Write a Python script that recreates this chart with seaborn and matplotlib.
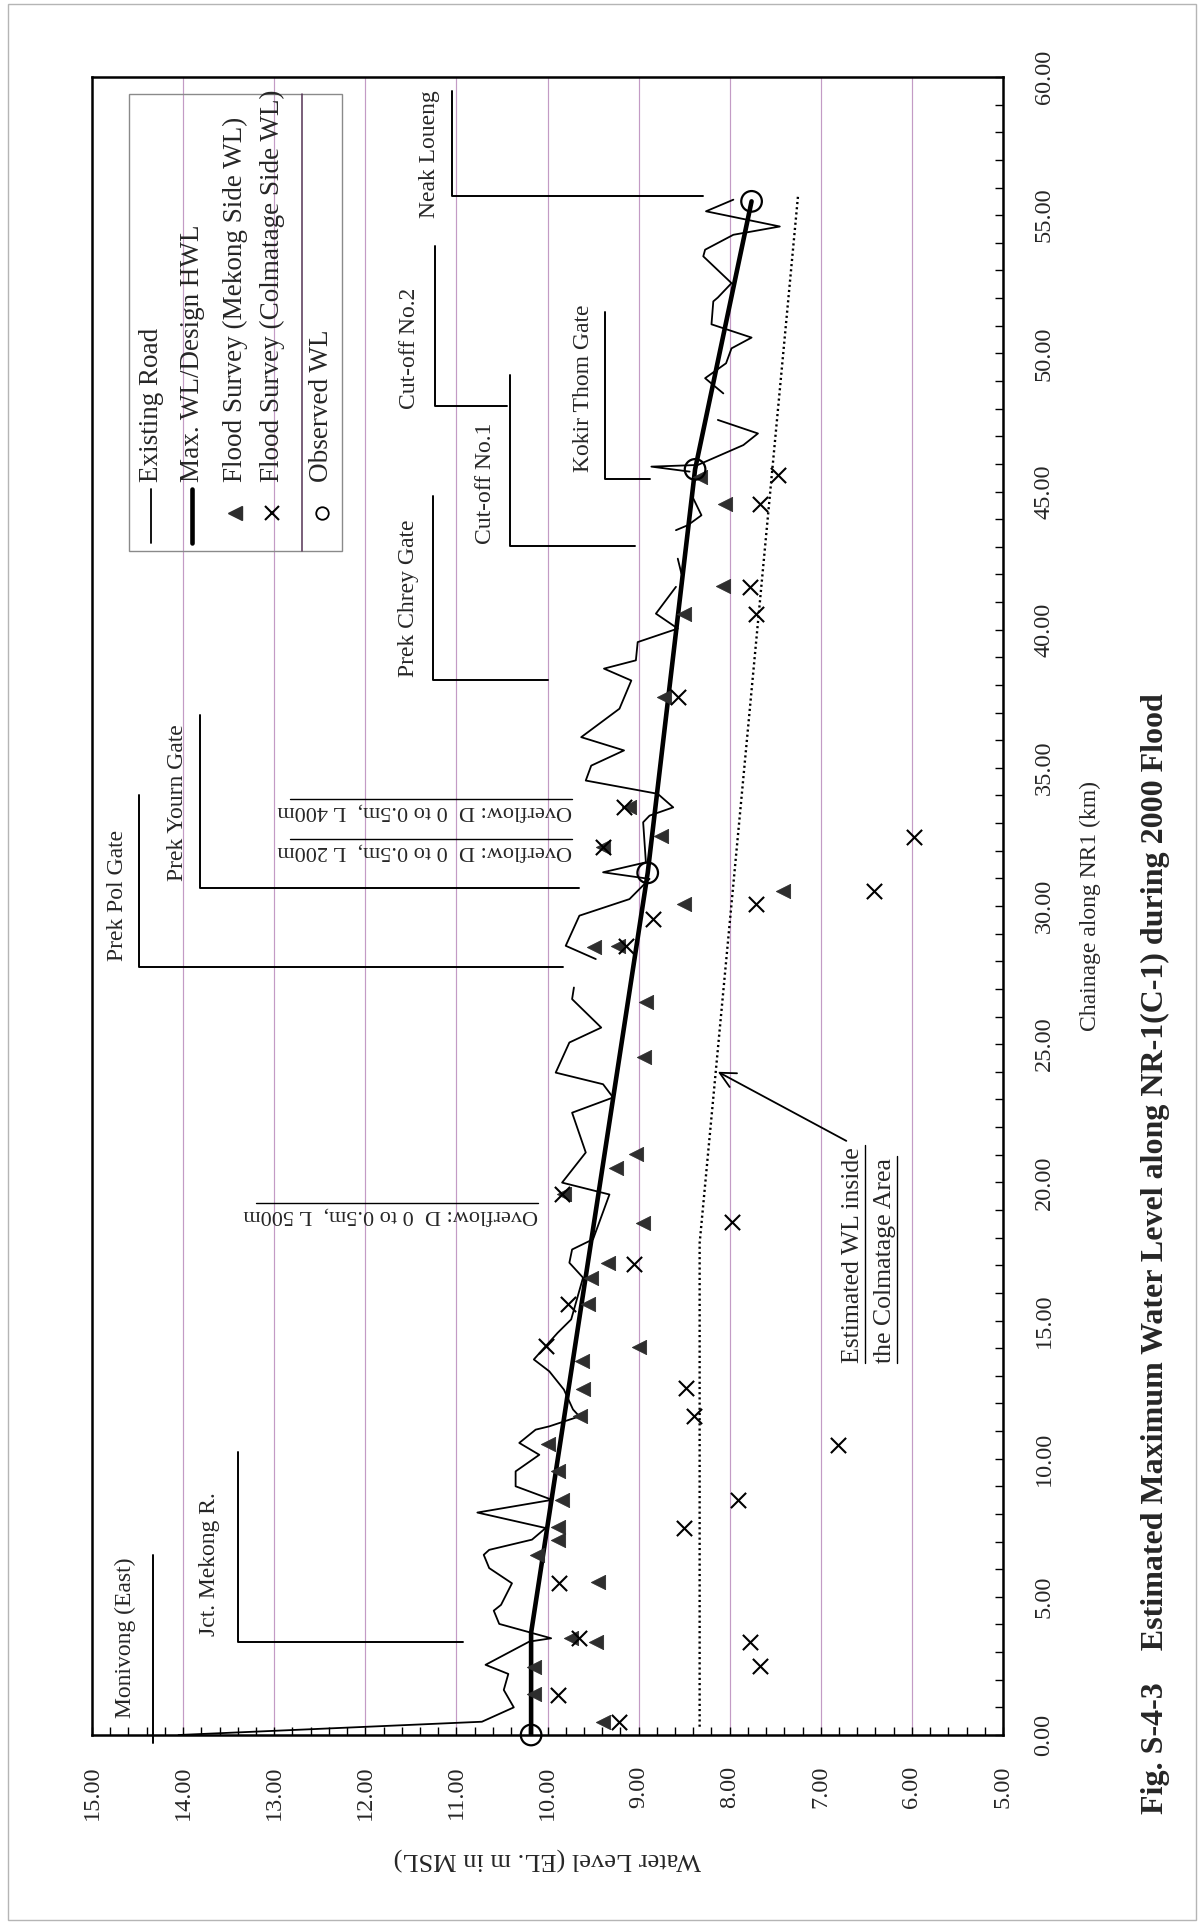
import numpy as np
import pandas as pd
import matplotlib
matplotlib.use("Agg")
import matplotlib.pyplot as plt
from matplotlib.patches import Rectangle
import seaborn as sns

# ---------------- data (chainage in km, levels in m MSL) ----------------
# Existing road crest; NaN marks a break in the surveyed profile
road_ch = [0.00, 0.48, 1.00, 1.63, 2.21, 2.54, 3.38, 3.50, 4.02, 4.50, 4.71, 5.49,
           6.04, 6.52, 6.70, 7.07, 7.49, 8.05, 8.51, 9.00, 9.54, 10.14, 10.57, 11.05,
           11.17, 11.53, 11.78, 12.50, 13.16, 13.59, 14.55, 15.04, 16.55, 17.09, 17.57,
           17.94, 19.56, 19.99, 21.08, 22.52, 23.07, 23.55, 23.97, 25.06, 25.60, 26.63,
           27.05, np.nan,
           28.08, 28.56, 29.65, 30.25, 30.98, 31.22, 31.58, 33.03, 33.27, 33.57, 34.06,
           34.54, 35.08, 35.63, 36.11, 37.14, 38.16, 38.59, 38.89, 39.55, 40.04, 40.58,
           41.55, np.nan,
           42.03, 42.57, np.nan,
           43.60, 43.78, 44.14, 44.75, np.nan,
           45.72, 45.90, 45.96, 46.68, 47.10, 47.59, np.nan,
           48.55, 49.10, 49.64, 50.18, 50.57, 51.05, 51.88, 52.02, 52.54, 53.51, 53.75,
           54.29, 54.59, 55.14, 55.56]
road_wl = [14.05, 10.72, 10.37, 10.48, 10.43, 10.68, 10.20, 9.96, 10.53, 10.59, 10.51, 10.39,
           10.64, 10.70, 10.64, 10.17, 10.02, 10.77, 9.95, 10.35, 10.35, 10.09, 10.31, 10.13,
           9.98, 9.65, 9.72, 9.82, 9.98, 10.15, 9.89, 9.74, 9.61, 9.76, 9.73,
           9.50, 9.32, 9.84, 9.58, 9.73, 9.28, 9.39, 9.91, 9.76, 9.41, 9.73,
           9.71, np.nan,
           9.47, 9.80, 9.65, 9.10, 8.88, 9.39, 8.92, 8.95, 8.88, 8.62, 8.79,
           9.58, 9.52, 9.16, 9.63, 9.21, 9.08, 9.38, 9.03, 9.01, 8.57, 8.81,
           8.59, np.nan,
           8.53, 8.57, np.nan,
           8.59, 8.46, 8.31, 8.40, np.nan,
           8.44, 8.86, 8.35, 7.85, 7.69, 8.13, np.nan,
           8.07, 8.27, 8.04, 7.98, 7.76, 8.20, 8.18, 8.13, 7.98, 8.29, 8.27,
           7.96, 7.45, 8.26, 7.96]

# Max. WL / Design HWL
hwl_ch = [0.0, 3.7, 31.2, 45.8, 55.5]
hwl_wl = [10.18, 10.18, 8.90, 8.38, 7.76]

# Observed water levels
obs_ch = [0.0, 31.2, 45.8, 55.5]
obs_wl = [10.18, 8.90, 8.38, 7.76]

# Flood survey, Mekong side
mek_ch = [0.48, 1.49, 2.47, 3.35, 3.50, 5.52, 6.52, 7.07, 7.52, 8.51, 9.54, 10.54,
          11.53, 12.52, 13.53, 14.05, 15.58, 16.55, 17.09, 18.54, 19.57, 20.53, 21.01,
          24.52, 26.51, 28.50, 28.56, 30.07, 30.55, 32.12, 32.55, 33.57, 37.56, 40.58,
          41.58, 44.56, 45.53]
mek_wl = [9.39, 10.15, 10.15, 9.47, 9.74, 9.45, 10.11, 9.89, 9.88, 9.84, 9.88, 10.00,
          9.64, 9.61, 9.62, 9.00, 9.56, 9.52, 9.34, 8.95, 9.82, 9.25, 9.03,
          8.94, 8.92, 9.49, 9.23, 8.50, 7.41, 9.39, 8.75, 9.10, 8.72, 8.50,
          8.07, 8.05, 8.33]

# Flood survey, Colmatage side
col_ch = [0.48, 1.45, 2.48, 3.38, 3.50, 5.49, 7.49, 8.51, 10.51, 11.53, 12.56, 14.07,
          15.58, 17.03, 18.56, 19.56, 28.56, 29.53, 30.07, 30.55, 32.12, 32.50, 33.57,
          37.56, 40.58, 41.55, 44.53, 45.60]
col_wl = [9.21, 9.88, 7.67, 7.78, 9.65, 9.87, 8.50, 7.91, 6.81, 8.39, 8.48, 10.02,
          9.78, 9.05, 7.98, 9.84, 9.14, 8.84, 7.71, 6.42, 9.39, 5.98, 9.16,
          8.57, 7.71, 7.78, 7.67, 7.47]

# Estimated WL inside the Colmatage area
est_ch = [0.3, 17.8, 55.7]
est_wl = [8.33, 8.33, 7.25]

# Locations along the road
site_names = ["Monivong (East)", "Jct. Mekong R.", "Prek Pol Gate", "Prek Yourn Gate",
              "Prek Chrey Gate", "Cut-off No.1", "Cut-off No.2", "Kokir Thom Gate",
              "Neak Loueng"]
site_ch = [0.0, 3.37, 27.8, 30.65, 38.19, 43.04, 48.1, 45.47, 55.7]
site_top = [6.5, 10.25, 34.0, 36.9, 44.85, 49.2, 53.9, 51.5, 59.5]
site_lead_wl = [14.33, 13.40, 14.48, 13.81, 11.26, 10.41, 11.24, 9.37, 11.05]
site_end_wl = [14.33, 10.93, 9.83, 9.65, 10.00, 9.04, 10.45, 8.87, 8.29]
site_text_wl = [14.63, 13.71, 14.72, 14.06, 11.53, 10.68, 11.52, 9.61, 11.29]
site_text_ch = [0.6, 3.6, 28.0, 30.9, 38.3, 43.1, 48.0, 45.7, 54.9]

# Overflow sections
ovf_text = ["Overflow: D  0 to 0.5m,  L 500m", "Overflow: D  0 to 0.5m,  L 200m",
            "Overflow: D  0 to 0.5m,  L 400m"]
ovf_ch = [18.86, 32.03, 33.48]
ovf_wl = [10.10, 9.73, 9.73]

wl_ticks = [15, 14, 13, 12, 11, 10, 9, 8, 7, 6, 5]
wl_labels = ["15.00", "14.00", "13.00", "12.00", "11.00", "10.00", "9.00", "8.00",
             "7.00", "6.00", "5.00"]
ch_ticks = [0, 5, 10, 15, 20, 25, 30, 35, 40, 45, 50, 55, 60]
ch_labels = ["0.00", "5.00", "10.00", "15.00", "20.00", "25.00", "30.00", "35.00",
             "40.00", "45.00", "50.00", "55.00", "60.00"]
grid_levels = [14, 13, 12, 11, 10, 9, 8, 7, 6]

# ---------------- figure ----------------
sns.set_theme(style="white")
plt.rcParams["font.family"] = ["Liberation Serif", "DejaVu Serif"]
plt.rcParams["axes.unicode_minus"] = False

W, H = 1199, 1922
fig = plt.figure(figsize=(W / 100, H / 100), dpi=100)
fig.patch.set_facecolor("white")
ax = fig.add_axes([92 / W, 1 - 1735 / H, 911 / W, 1658 / H])
ax.set_facecolor("white")

# page frame
fig.add_artist(Rectangle((8 / W, 2 / H), 1188 / W, 1916 / H, transform=fig.transFigure,
                         fill=False, ec="#b5b5b5", lw=1.0))

ax.set_xlim(15, 5)
ax.set_ylim(0, 60)

for lv in grid_levels:
    ax.axvline(lv, color="#c39bc5", lw=0.85, zorder=0)

# road profile
road = pd.DataFrame({"ch": road_ch, "wl": road_wl})
road["seg"] = np.cumsum(road["ch"].isna())
road = road.dropna()
sns.lineplot(data=road, x="wl", y="ch", units="seg", estimator=None, sort=False,
             orient="y", color="black", lw=1.3, legend=False, ax=ax, zorder=3)

# design HWL
sns.lineplot(x=hwl_wl, y=hwl_ch, estimator=None, sort=False, orient="y",
             color="black", lw=3.3, ax=ax, zorder=4)

# estimated WL inside the Colmatage area
sns.lineplot(x=est_wl, y=est_ch, estimator=None, sort=False, orient="y",
             color="black", lw=1.7, linestyle=(0, (0.9, 1.3)), ax=ax, zorder=3)

sns.scatterplot(x=mek_wl, y=mek_ch, marker="<", s=105, color="#2e2e2e",
                edgecolor="#2e2e2e", linewidth=0.6, ax=ax, zorder=5)
sns.scatterplot(x=col_wl, y=col_ch, marker="x", s=120, color="black",
                linewidth=1.5, ax=ax, zorder=5)
sns.scatterplot(x=obs_wl, y=obs_ch, marker="o", s=220, facecolor="none",
                edgecolor="black", linewidth=1.6, ax=ax, zorder=6, clip_on=False)
ax.collections[-1].set_facecolor("none")

# location leaders and names
for name, c, top, lw_, ew, tw, tc in zip(site_names, site_ch, site_top, site_lead_wl,
                                          site_end_wl, site_text_wl, site_text_ch):
    if name.startswith("Monivong"):
        ax.plot([lw_, lw_], [-0.3, top], color="black", lw=1.4, clip_on=False, zorder=3)
    else:
        ax.plot([lw_, lw_, ew], [top, c, c], color="black", lw=1.4, zorder=3)
    ax.text(tw, tc, name, rotation=90, rotation_mode="anchor", ha="left", va="center",
            fontsize=17, zorder=6)

# overflow notes
for t, c, w in zip(ovf_text, ovf_ch, ovf_wl):
    ax.text(w, c, t, rotation=180, rotation_mode="anchor", ha="left",
            va="center", fontsize=16, zorder=6)
    ax.plot([w, w + 3.1], [c + 0.38, c + 0.38], color="black", lw=1.0, zorder=6)

# note on the Colmatage estimate
ax.text(6.65, 13.46, "Estimated WL inside", rotation=90, rotation_mode="anchor",
        ha="left", va="center", fontsize=18.5, zorder=6)
ax.text(6.30, 13.46, "the Colmatage Area", rotation=90, rotation_mode="anchor",
        ha="left", va="center", fontsize=18.5, zorder=6)
ax.plot([6.52, 6.52], [13.46, 21.35], color="black", lw=1.0)
ax.plot([6.16, 6.16], [13.46, 20.95], color="black", lw=1.0)
ax.annotate("", xy=(8.13, 24.0), xytext=(6.72, 21.5),
            arrowprops=dict(arrowstyle="->", lw=1.3, color="black", mutation_scale=28,
                            shrinkA=0, shrinkB=0))

# legend, drawn along the chainage axis
lg_left, lg_right, lg_bot, lg_top = 14.59, 12.26, 42.85, 59.39
ax.add_patch(Rectangle((lg_right, lg_bot), lg_left - lg_right, lg_top - lg_bot,
                       fill=False, ec="#8a8a8a", lw=1.0, zorder=6))
ax.plot([12.70, 12.70], [lg_bot, lg_top], color="#553355", lw=1.1, zorder=6)
leg_wl = [14.35, 13.90, 13.43, 13.02, 12.48]
leg_txt = ["Existing Road", "Max. WL/Design HWL", "Flood Survey (Mekong Side WL)",
           "Flood Survey (Colmatage Side WL)", "Observed WL"]
ax.plot([leg_wl[0]] * 2, [43.14, 45.10], color="black", lw=1.3, zorder=7)
ax.plot([leg_wl[1]] * 2, [43.14, 45.10], color="black", lw=3.3, zorder=7)
ax.plot(leg_wl[2], 44.24, marker="<", ms=10, color="#2e2e2e", zorder=7)
ax.plot(leg_wl[3], 44.24, marker="x", ms=10, mew=1.5, color="black", zorder=7)
ax.plot(leg_wl[4], 44.24, marker="o", ms=9, mew=1.3, mfc="none", color="black", zorder=7)
for w, t in zip(leg_wl, leg_txt):
    ax.text(w, 45.35, t, rotation=90, rotation_mode="anchor", ha="left", va="center",
            fontsize=19.5, zorder=7)

# axes
ax.set_xticks(wl_ticks)
ax.set_xticklabels(wl_labels, rotation=90, ha="center", va="top")
ax.set_xticks(np.arange(5, 15.01, 0.2), minor=True)
ax.yaxis.tick_right()
ax.set_yticks(ch_ticks)
ax.set_yticklabels(ch_labels, rotation=90, ha="left", va="center")
ax.set_yticks(np.arange(0, 60.01, 1), minor=True)
ax.tick_params(axis="x", which="both", direction="in", length=6, width=1, color="black",
               bottom=True, top=False, labelsize=17.5, pad=22)
ax.tick_params(axis="y", which="both", direction="in", length=6, width=1, color="black",
               right=True, left=False, labelright=True, labelleft=False,
               labelsize=17.5, pad=22)
for s in ax.spines.values():
    s.set_color("black")
    s.set_linewidth(1.8)

ax.set_xlabel("Water Level (EL. m in MSL)", fontsize=19, rotation=180)
ax.xaxis.set_label_coords(0.5, -0.0745)
ax.xaxis.label.set_va("center")
ax.yaxis.set_label_position("right")
ax.set_ylabel("Chainage along NR1 (km)", fontsize=17)
ax.yaxis.set_label_coords(1.0955, 0.5)
ax.yaxis.label.set(rotation=90, va="center", ha="center", rotation_mode="anchor")

fig.text(1155 / W, 1 - 1814 / H,
         "Fig. S-4-3    Estimated Maximum Water Level along NR-1(C-1) during 2000 Flood",
         rotation=90, rotation_mode="anchor", ha="left", va="center",
         fontsize=23, fontweight="bold")

fig.savefig("out.png", dpi=100, facecolor="white")
